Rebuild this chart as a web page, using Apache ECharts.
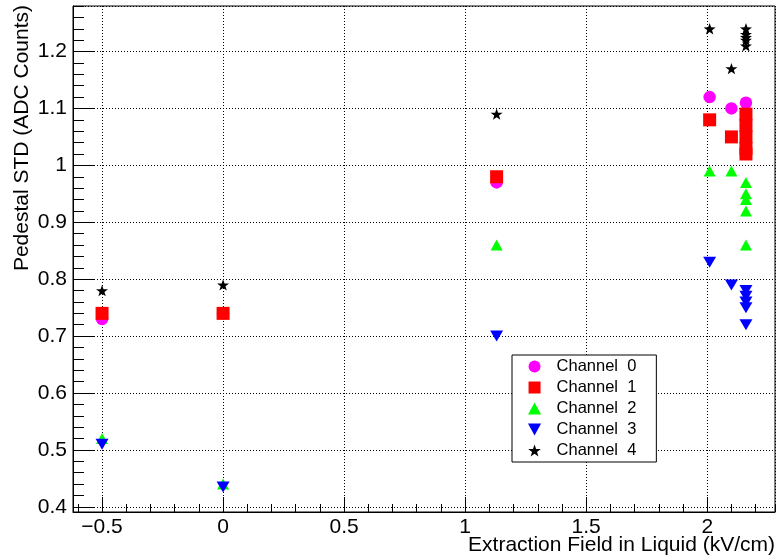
<!DOCTYPE html>
<html><head><meta charset="utf-8">
<script src="https://cdn.jsdelivr.net/npm/echarts@6/dist/echarts.min.js"></script>
<style>html,body{margin:0;padding:0;background:#fff}#c{width:778px;height:559px}</style>
</head><body><div id="c"></div>
<script>
// ---- data ----
const seriesNames = ['Channel  0', 'Channel  1', 'Channel  2', 'Channel  3', 'Channel  4'];
const ch0_x = [-0.5, 0, 1.13, 2.01, 2.1, 2.16];
const ch0_y = [0.73, 0.74, 0.97, 1.12, 1.10, 1.11];
const ch1_x = [-0.5, 0, 1.13, 2.01, 2.1, 2.16, 2.16, 2.16, 2.16, 2.16];
const ch1_y = [0.74, 0.74, 0.98, 1.08, 1.05, 1.09, 1.07, 1.05, 1.03, 1.02];
const ch2_x = [-0.5, 0, 1.13, 2.01, 2.1, 2.16, 2.16, 2.16, 2.16, 2.16];
const ch2_y = [0.52, 0.44, 0.86, 0.99, 0.99, 0.97, 0.95, 0.94, 0.92, 0.86];
const ch3_x = [-0.5, 0, 1.13, 2.01, 2.1, 2.16, 2.16, 2.16, 2.16, 2.16];
const ch3_y = [0.51, 0.435, 0.70, 0.83, 0.79, 0.78, 0.77, 0.76, 0.75, 0.72];
const ch4_x = [-0.5, 0, 1.13, 2.01, 2.1, 2.16, 2.16, 2.16, 2.16, 2.16];
const ch4_y = [0.78, 0.79, 1.09, 1.24, 1.17, 1.24, 1.23, 1.225, 1.22, 1.21];
const xTitle = 'Extraction Field in Liquid (kV/cm)';
const yTitle = 'Pedestal STD (ADC Counts)';
const XMIN = -0.62, XMAX = 2.28, XMAJOR = 0.5, XMINOR = 0.1;
const YMIN = 0.391, YMAX = 1.28, YMAJOR = 0.1, YMINOR = 0.02;

// ---- styling ----
const FONT = '"Liberation Sans", Arial, Helvetica, sans-serif';
const STAR = 'path://M0,-10 L2.35,-3.24 L9.51,-3.09 L3.8,1.24 L5.88,8.09 L0,4 L-5.88,8.09 L-3.8,1.24 L-9.51,-3.09 L-2.35,-3.24 Z';
const DOWN = 'path://M0,0 L12,0 L6,11 Z';
const UP = 'path://M6,0 L12,11 L0,11 Z';
const RECT = 'path://M0,0 L10,0 L10,10 L0,10 Z';
const colors = ['#ff00ff', '#ff0000', '#00ff00', '#0000ff', '#000000'];
const symbols = ['circle', RECT, UP, DOWN, STAR];
const sizes = [12.5, 13, [12, 12], [13, 12], 12];
const xs = [ch0_x, ch1_x, ch2_x, ch3_x, ch4_x];
const ys = [ch0_y, ch1_y, ch2_y, ch3_y, ch4_y];

function pairs(a, b) { return a.map((x, i) => [x, b[i]]); }
const minus = v => String(v).replace('-', '\u2212');

const chart = echarts.init(document.getElementById('c'), null, { renderer: 'canvas', width: 778, height: 559 });

const axisCommonMajor = (isX) => ({
  type: 'value',
  axisLine: { show: true, onZero: false, lineStyle: { color: '#000', width: 1 } },
  axisTick: { show: true, inside: true, length: isX ? 15 : 21, lineStyle: { color: '#000', width: 1 } },
  axisLabel: { color: '#000', fontFamily: FONT, fontSize: 21, margin: isX ? 5 : 6,
               showMinLabel: false, showMaxLabel: false, formatter: minus },
  splitLine: { show: true, lineStyle: { color: '#000', type: [1, 2], width: 1 } },
  minorTick: { show: false }
});
const axisCommonMinor = (isX) => ({
  type: 'value',
  axisLine: { show: false, onZero: false },
  axisTick: { show: true, inside: true, length: isX ? 8 : 11, lineStyle: { color: '#000', width: 1 } },
  axisLabel: { show: false },
  splitLine: { show: false }
});

chart.setOption({
  animation: false,
  backgroundColor: '#fff',
  grid: { left: 73, right: 3, top: 6, bottom: 47, show: true, borderColor: '#000', borderWidth: 1,
          backgroundColor: 'rgba(0,0,0,0)', containLabel: false, outerBoundsMode: 'none' },
  xAxis: [
    Object.assign(axisCommonMajor(true), { position: 'bottom', min: XMIN, max: XMAX, minInterval: XMAJOR, maxInterval: XMAJOR, splitNumber: 6 }),
    Object.assign(axisCommonMinor(true), { position: 'bottom', min: XMIN, max: XMAX, minInterval: XMINOR, maxInterval: XMINOR, splitNumber: 29 })
  ],
  yAxis: [
    Object.assign(axisCommonMajor(false), { position: 'left', min: YMIN, max: YMAX, minInterval: YMAJOR, maxInterval: YMAJOR, splitNumber: 9 }),
    Object.assign(axisCommonMinor(false), { position: 'left', min: YMIN, max: YMAX, minInterval: YMINOR, maxInterval: YMINOR, splitNumber: 44 })
  ],
  legend: {
    orient: 'vertical', left: 512, top: 355,
    padding: [1, 20, 1, 16], itemWidth: 34, itemHeight: 12, itemGap: 0,
    symbolKeepAspect: true,
    borderColor: '#000', borderWidth: 1, backgroundColor: '#fff',
    textStyle: { fontFamily: FONT, fontSize: 16.5, color: '#000', lineHeight: 21 },
    data: seriesNames
  },
  graphic: [
    { type: 'text', x: 775, y: 545, z: 100,
      style: { text: xTitle, font: '21px ' + FONT, fill: '#000', align: 'right', textAlign: 'right', verticalAlign: 'middle', textVerticalAlign: 'middle' } },
    { type: 'text', x: 22, y: 5, rotation: Math.PI / 2, z: 100,
      style: { text: yTitle, font: '21px ' + FONT, fill: '#000', align: 'right', textAlign: 'right', verticalAlign: 'middle', textVerticalAlign: 'middle' } }
  ],
  series: seriesNames.map((name, i) => ({
    name: name,
    type: 'scatter',
    xAxisIndex: 0, yAxisIndex: 0,
    symbol: symbols[i],
    symbolSize: sizes[i],
    symbolKeepAspect: true,
    itemStyle: { color: colors[i], opacity: 1 },
    emphasis: { disabled: true },
    z: 10 + i,
    data: pairs(xs[i], ys[i])
  }))
});
</script>
</body></html>
